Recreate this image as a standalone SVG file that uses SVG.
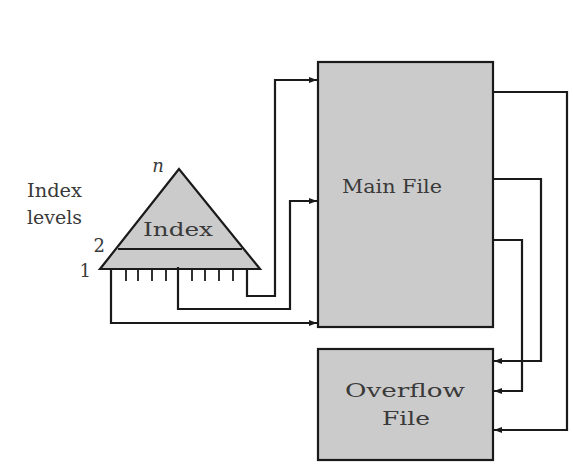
<svg xmlns="http://www.w3.org/2000/svg" width="573" height="465" viewBox="0 0 573 465">
<style>
.box{fill:#cbcbcb;stroke:#1a1a1a;stroke-width:2.2}
.ln{fill:none;stroke:#1a1a1a;stroke-width:2.2}
.tk{stroke:#1a1a1a;stroke-width:1.8}
.t{font-family:"DejaVu Serif","Liberation Serif",serif;font-size:18px;fill:#3a3a3a}
</style>
<defs>
<marker id="ah" markerWidth="8" markerHeight="6" refX="8" refY="3" orient="auto" markerUnits="userSpaceOnUse">
<path d="M0,0 L8,3 L0,6 Z" fill="#1a1a1a"/>
</marker>
</defs>
<rect width="573" height="465" fill="#fff"/>
<g id="index">
<polygon class="box" points="179,169 100,269 260,269"/>
<line class="ln" x1="118" y1="249" x2="242" y2="249"/>
<g class="tk">
<line x1="126" y1="269" x2="126" y2="281"/><line x1="138" y1="269" x2="138" y2="281"/>
<line x1="152" y1="269" x2="152" y2="281"/><line x1="166" y1="269" x2="166" y2="281"/>
<line x1="192" y1="269" x2="192" y2="281"/><line x1="205" y1="269" x2="205" y2="281"/>
<line x1="219" y1="269" x2="219" y2="281"/><line x1="233" y1="269" x2="233" y2="281"/>
</g>
<text class="t" x="143" y="236" textLength="70" lengthAdjust="spacingAndGlyphs">Index</text>
<text class="t" x="158" y="172" font-style="italic" font-size="14" text-anchor="middle">n</text>
<text class="t" x="105" y="252" text-anchor="end">2</text>
<text class="t" x="91" y="277" text-anchor="end">1</text>
</g>
<g id="levels-label">
<text class="t" x="27" y="197" textLength="55" lengthAdjust="spacingAndGlyphs">Index</text>
<text class="t" x="27" y="224" textLength="55" lengthAdjust="spacingAndGlyphs">levels</text>
</g>
<g id="main-file">
<rect class="box" x="318" y="62" width="175" height="265"/>
<text class="t" x="342" y="193" font-size="19" textLength="100" lengthAdjust="spacingAndGlyphs">Main File</text>
</g>
<g id="overflow-file">
<rect class="box" x="318" y="349" width="175" height="111"/>
<text class="t" x="345" y="397" font-size="19" textLength="120" lengthAdjust="spacingAndGlyphs">Overflow</text>
<text class="t" x="382" y="425" font-size="19" textLength="48" lengthAdjust="spacingAndGlyphs">File</text>
</g>
<g id="connectors">
<polyline class="ln" points="247,269 247,296 275,296 275,80 317,80" marker-end="url(#ah)"/>
<polyline class="ln" points="178,267 178,309 290,309 290,201 317,201" marker-end="url(#ah)"/>
<polyline class="ln" points="111,269 111,323 317,323" marker-end="url(#ah)"/>
<polyline class="ln" points="493,92 567,92 567,430 494,430" marker-end="url(#ah)"/>
<polyline class="ln" points="493,179 541,179 541,361 494,361" marker-end="url(#ah)"/>
<polyline class="ln" points="493,240 522,240 522,391 494,391" marker-end="url(#ah)"/>
</g>
</svg>
